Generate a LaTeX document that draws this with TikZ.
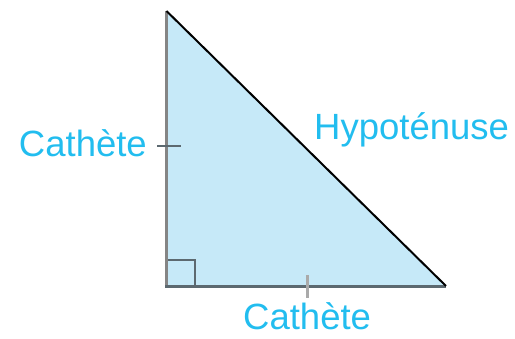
\documentclass[tikz,border=0pt]{standalone}
\usepackage{fontspec}
\setmainfont{Liberation Sans}
\definecolor{labelc}{HTML}{22BDEF}
\definecolor{fillc}{HTML}{C6E9F8}
\definecolor{edgeg}{HTML}{858585}
\definecolor{edged}{HTML}{5C6970}
\tikzset{
  lbl/.style={text=labelc, inner sep=0pt, font=\fontsize{36.5}{40}\selectfont},
}
\begin{document}
\begin{tikzpicture}[x=1pt,y=-1pt]
\useasboundingbox (0,0) rectangle (515,338);
\coordinate (A) at (166.5,11);
\coordinate (B) at (166.5,286);
\coordinate (C) at (446,286);
\fill[fillc] (A) -- (B) -- (C) -- cycle;
\draw[edged, line width=2pt] (167,260) -- (195,260) -- (195,286);
\draw[edgeg, line width=3pt] (A) -- (B);
\draw[edged, line width=3pt] (165,286) -- (C);
\draw[black, line width=2pt] (A) -- (C);
\draw[edged, line width=2pt] (157,146) -- (181,146);
\draw[edgeg!70, line width=3pt] (307,275) -- (307,298);
\node[lbl, anchor=base east] (l1) at (147,156) {Cathète};
\node[lbl, anchor=base west] (l2) at (314,139) {Hypoténuse};
\node[lbl, anchor=base west] (l3) at (243,329) {Cathète};
\end{tikzpicture}
\end{document}
